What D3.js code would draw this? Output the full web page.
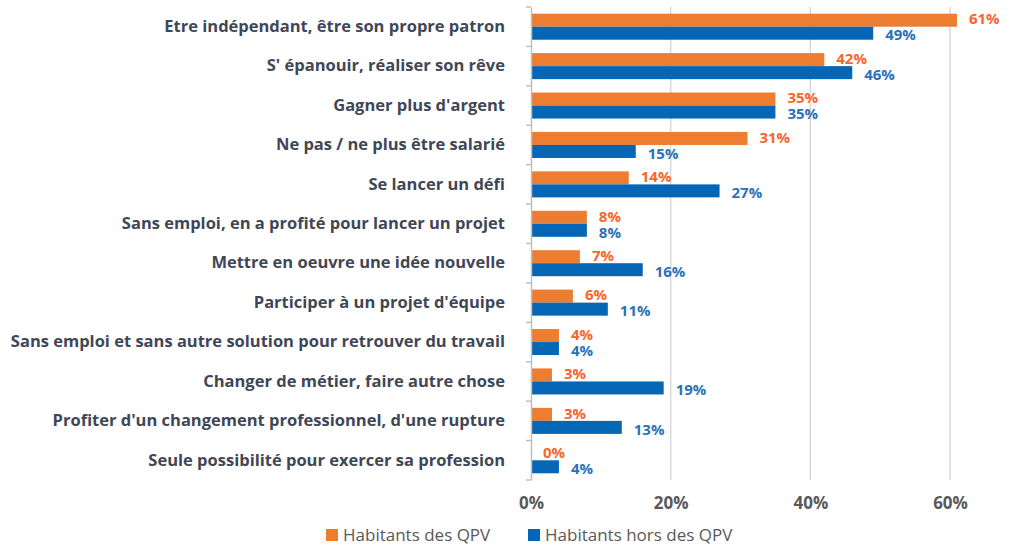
<!DOCTYPE html>
<html>
<head>
<meta charset="utf-8">
<script src="https://cdn.jsdelivr.net/npm/d3@7"></script>
<style>
  body { margin: 0; background: #fff; }
  text { font-family: "Open Sans", sans-serif; }
</style>
</head>
<body>
<svg id="chart"></svg>
<script>
    var categories = [
        "Etre indépendant, être son propre patron",
        "S' épanouir, réaliser son rêve",
        "Gagner plus d'argent",
        "Ne pas / ne plus être salarié",
        "Se lancer un défi",
        "Sans emploi, en a profité pour lancer un projet",
        "Mettre en oeuvre une idée nouvelle",
        "Participer à un projet d'équipe",
        "Sans emploi et sans autre solution pour retrouver du travail",
        "Changer de métier, faire autre chose",
        "Profiter d'un changement professionnel, d'une rupture",
        "Seule possibilité pour exercer sa profession"
    ];
    var seriesNames = ["Habitants des QPV", "Habitants hors des QPV"];
    var qpv     = [61, 42, 35, 31, 14, 8, 7, 6, 4, 3, 3, 0];
    var horsQpv = [49, 46, 35, 15, 27, 8, 16, 11, 4, 19, 13, 4];
    var ticks = [0, 20, 40, 60];

    var barColors = ["#ed7d31", "#0566b5"];
    var labelColors = ["#f8652d", "#2b72b8"];

    var width = 1015, height = 548;
    var svg = d3.select("#chart").attr("width", width).attr("height", height);

    var xS = d3.scaleLinear().domain([0, 60]).range([531, 950]);
    var yS = d3.scaleBand().domain(categories).range([7, 480])
        .paddingInner(0.34).paddingOuter(0.17);
    var yInner = d3.scaleBand().domain(seriesNames).range([0, yS.bandwidth()]);

    // gridlines
    svg.append("g").selectAll("line")
        .data(ticks.filter(function(t){ return t > 0; }))
        .enter().append("line")
        .attr("x1", function(d){ return xS(d); })
        .attr("x2", function(d){ return xS(d); })
        .attr("y1", 7).attr("y2", 480)
        .attr("stroke", "#d9d9d9").attr("stroke-width", 1.5);

    // bars
    var rows = categories.map(function(c, i){ return {cat: c, vals: [qpv[i], horsQpv[i]]}; });
    var groups = svg.append("g").selectAll("g")
        .data(rows).enter().append("g")
        .attr("transform", function(d){ return "translate(0," + yS(d.cat) + ")"; });

    groups.selectAll("rect")
        .data(function(d){ return d.vals; })
        .enter().append("rect")
        .attr("x", xS(0))
        .attr("y", function(d, j){ return yInner(seriesNames[j]); })
        .attr("width", function(d){ return xS(d) - xS(0); })
        .attr("height", yInner.bandwidth())
        .attr("fill", function(d, j){ return barColors[j]; });

    groups.selectAll("text")
        .data(function(d){ return d.vals; })
        .enter().append("text")
        .attr("x", function(d){ return xS(d) + 12; })
        .attr("y", function(d, j){ return yInner(seriesNames[j]) + yInner.bandwidth()/2 + (j === 0 ? -1 : 2); })
        .attr("dy", "0.35em")
        .attr("font-size", 15)
        .attr("font-weight", "bold")
        .attr("fill", function(d, j){ return labelColors[j]; })
        .text(function(d){ return d + "%"; });

    // left axis
    var yAxis = svg.append("g")
        .attr("transform", "translate(" + xS(0) + ",0)")
        .call(d3.axisLeft(yS).tickSize(0).tickPadding(26));
    yAxis.select(".domain").attr("stroke", "#bfbfbf").attr("stroke-width", 1.5);
    yAxis.selectAll("text")
        .attr("font-size", 16.5).attr("font-weight", "bold")
        .attr("fill", "#3f4756")
        .style("font-family", "'Open Sans', sans-serif");

    // category boundary ticks
    var bounds = categories.map(function(c){ return yS(c) - yS.step()*yS.paddingInner()/2; });
    bounds.push(480);
    bounds[0] = 7;
    svg.append("g").selectAll("line")
        .data(bounds).enter().append("line")
        .attr("x1", xS(0) - 5).attr("x2", xS(0))
        .attr("y1", function(d){ return d; }).attr("y2", function(d){ return d; })
        .attr("stroke", "#bfbfbf").attr("stroke-width", 1.5);

    // bottom axis labels
    var xAxis = svg.append("g")
        .attr("transform", "translate(0,480)")
        .call(d3.axisBottom(xS).tickValues(ticks).tickSize(0).tickPadding(17)
            .tickFormat(function(d){ return d + "%"; }));
    xAxis.select(".domain").remove();
    xAxis.selectAll("text")
        .attr("font-size", 17).attr("font-weight", "bold")
        .attr("fill", "#595959")
        .style("font-family", "'Open Sans', sans-serif");

    // legend
    var legendX = [326, 528];
    var legend = svg.append("g").selectAll("g")
        .data(seriesNames).enter().append("g")
        .attr("transform", function(d, i){ return "translate(" + legendX[i] + ",535)"; });
    legend.append("rect")
        .attr("x", 0).attr("y", -6).attr("width", 12).attr("height", 12)
        .attr("fill", function(d, i){ return barColors[i]; });
    legend.append("text")
        .attr("x", 17).attr("y", 0).attr("dy", "0.35em")
        .attr("font-size", 17).attr("fill", "#595959")
        .text(function(d){ return d; });
</script>
</body>
</html>
